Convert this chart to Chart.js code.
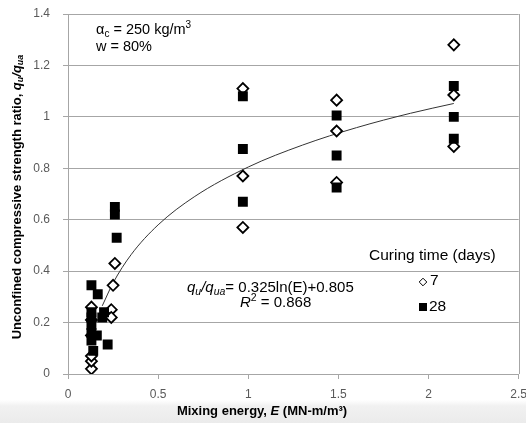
<!DOCTYPE html>
<html><head><meta charset="utf-8">
<script src="https://cdn.jsdelivr.net/npm/chart.js@4"></script>
<style>
html,body{margin:0;padding:0;width:526px;height:423px;overflow:hidden;
background:linear-gradient(to bottom,#ffffff 0px,#ffffff 400px,#f1f1f1 406px,#ebebeb 423px);}
canvas{display:block}
</style>
</head><body>
<canvas id="c" width="526" height="423"></canvas>
<script>
// ---- data ----
const xTickValues = [0, 0.5, 1, 1.5, 2, 2.5];
const yTickValues = [0, 0.2, 0.4, 0.6, 0.8, 1, 1.2, 1.4];

// 7-day curing (open diamonds)
const e7 = [0.13, 0.13, 0.13, 0.13, 0.13, 0.13, 0.24, 0.24, 0.25, 0.26, 0.97, 0.97, 0.97, 1.49, 1.49, 1.49, 2.14, 2.14, 2.14];
const q7 = [0.02, 0.05, 0.07, 0.15, 0.21, 0.26, 0.25, 0.22, 0.345, 0.43, 0.57, 0.77, 1.11, 0.745, 0.945, 1.065, 0.885, 1.085, 1.28];

// 28-day curing (filled squares)
const e28 = [0.13, 0.13, 0.13, 0.13, 0.13, 0.13, 0.14, 0.165, 0.16, 0.20, 0.22, 0.19, 0.26, 0.26, 0.27, 0.97, 0.97, 0.97, 1.49, 1.49, 1.49, 2.14, 2.14, 2.14];
const q28 = [0.345, 0.24, 0.22, 0.19, 0.16, 0.13, 0.09, 0.31, 0.15, 0.24, 0.115, 0.22, 0.65, 0.62, 0.53, 0.67, 0.875, 1.08, 0.725, 0.85, 1.005, 0.915, 1.0, 1.12];

// logarithmic trend line as drawn
const trendE = [0.19, 0.25, 0.35, 0.5, 0.7, 1.0, 1.3, 1.6, 1.9, 2.14];
const trendQ = [0.265, 0.354, 0.464, 0.580, 0.689, 0.805, 0.890, 0.958, 1.014, 1.052];

const legendTitle = 'Curing time (days)';
const seriesNames = ['7', '28'];

// ---- chart ----
const FONT = '"Liberation Sans", Arial, sans-serif';
const GRID = '#a6a6a6';
const pts = (xs, ys) => xs.map((x, i) => ({x: x, y: ys[i]}));

function richText(ctx, x, y, parts, align) {
  let w = 0;
  parts.forEach(p => { ctx.font = p.f; w += ctx.measureText(p.t).width; });
  let cx = align === 'center' ? x - w / 2 : (align === 'right' ? x - w : x);
  parts.forEach(p => {
    ctx.font = p.f;
    ctx.fillText(p.t, cx, y + (p.dy || 0));
    cx += ctx.measureText(p.t).width;
  });
}

const annotate = {
  id: 'annotate',
  afterDraw(chart) {
    const ctx = chart.ctx, a = chart.chartArea;
    ctx.save();
    // right border
    ctx.strokeStyle = GRID; ctx.lineWidth = 1;
    ctx.beginPath(); ctx.moveTo(Math.round(a.right) + 0.5, a.top); ctx.lineTo(Math.round(a.right) + 0.5, a.bottom); ctx.stroke();

    ctx.fillStyle = '#000';
    ctx.textBaseline = 'middle';
    const n14 = '14.5px ' + FONT, s10 = '10px ' + FONT, i14 = 'italic 14.5px ' + FONT, i10 = 'italic 10px ' + FONT;
    // material annotation
    richText(ctx, 96, 30, [
      {t: 'α', f: n14}, {t: 'c', f: s10, dy: 4}, {t: ' = 250 kg/m', f: n14}, {t: '3', f: s10, dy: -5}
    ], 'left');
    richText(ctx, 96, 47, [{t: 'w = 80%', f: n14}], 'left');

    // regression equation
    const e15 = '15px ' + FONT, ei15 = 'italic 15px ' + FONT, ei10 = 'italic 10.5px ' + FONT;
    richText(ctx, 187, 288, [
      {t: 'q', f: ei15}, {t: 'u', f: ei10, dy: 4}, {t: '/q', f: ei15}, {t: 'ua', f: ei10, dy: 4},
      {t: '= 0.325ln(E)+0.805', f: e15}
    ], 'left');
    richText(ctx, 240, 303, [
      {t: 'R', f: ei15}, {t: '2', f: '10.5px ' + FONT, dy: -5}, {t: ' = 0.868', f: e15}
    ], 'left');

    // legend
    ctx.font = '15.5px ' + FONT;
    ctx.fillText(legendTitle, 369, 256);
    ctx.fillStyle = '#fff'; ctx.strokeStyle = '#000'; ctx.lineWidth = 1;
    ctx.beginPath(); ctx.moveTo(423, 278.2); ctx.lineTo(426.8, 282); ctx.lineTo(423, 285.8); ctx.lineTo(419.2, 282); ctx.closePath(); ctx.fill(); ctx.stroke();
    ctx.fillStyle = '#000';
    ctx.fillRect(419, 303, 8, 8);
    ctx.font = '15.5px ' + FONT;
    ctx.fillText(seriesNames[0], 430, 281);
    ctx.fillText(seriesNames[1], 429, 307);

    // axis titles
    const b13 = 'bold 13px ' + FONT, bi13 = 'bold italic 13px ' + FONT, bi9 = 'bold italic 9px ' + FONT;
    richText(ctx, 262, 411, [
      {t: 'Mixing energy, ', f: b13}, {t: 'E', f: bi13}, {t: ' (MN-m/m³)', f: b13}
    ], 'center');
    ctx.translate(17, 197);
    ctx.rotate(-Math.PI / 2);
    richText(ctx, 0, 0, [
      {t: 'Unconfined compressive strength ratio, ', f: b13},
      {t: 'q', f: bi13}, {t: 'u', f: bi9, dy: 4}, {t: '/q', f: bi13}, {t: 'ua', f: bi9, dy: 4}
    ], 'center');
    ctx.restore();
  }
};

new Chart(document.getElementById('c'), {
  type: 'scatter',
  data: {
    datasets: [
      {
        label: 'trend', type: 'line', data: pts(trendE, trendQ), showLine: true,
        borderColor: '#333', borderWidth: 1, pointRadius: 0, cubicInterpolationMode: 'monotone',
        fill: false, order: 3
      },
      {
        label: seriesNames[0], data: pts(e7, q7), pointStyle: 'rectRot', pointRadius: 5.5,
        pointBorderWidth: 1.8, pointBorderColor: '#000', pointBackgroundColor: '#fff', order: 2
      },
      {
        label: seriesNames[1], data: pts(e28, q28), pointStyle: 'rect', pointRadius: 7,
        pointBorderWidth: 0, pointBorderColor: '#000', pointBackgroundColor: '#000', order: 1
      }
    ]
  },
  options: {
    responsive: false, animation: false, devicePixelRatio: 1,
    layout: {padding: {top: 14, right: 7, left: 0, bottom: 0}},
    plugins: {legend: {display: false}, tooltip: {enabled: false}},
    scales: {
      x: {
        type: 'linear', min: 0, max: 2.5,
        afterBuildTicks: s => { s.ticks = xTickValues.map(v => ({value: v})); },
        afterFit: s => { s.height = 49; s.paddingLeft = 0; s.paddingRight = 0; },
        grid: {drawOnChartArea: false, drawTicks: true, tickLength: 5, color: GRID},
        border: {display: true, color: GRID},
        ticks: {color: '#595959', font: {family: FONT, size: 12}, padding: 8, callback: v => String(v)}
      },
      y: {
        type: 'linear', min: 0, max: 1.4,
        afterBuildTicks: s => { s.ticks = yTickValues.map(v => ({value: v})); },
        afterFit: s => { s.width = 68; s.paddingTop = 0; s.paddingBottom = 0; },
        grid: {drawOnChartArea: true, drawTicks: true, tickLength: 5, color: GRID},
        border: {display: true, color: GRID},
        ticks: {color: '#595959', font: {family: FONT, size: 12}, padding: 13, callback: v => String(v)}
      }
    }
  },
  plugins: [annotate]
});
</script>
</body></html>
